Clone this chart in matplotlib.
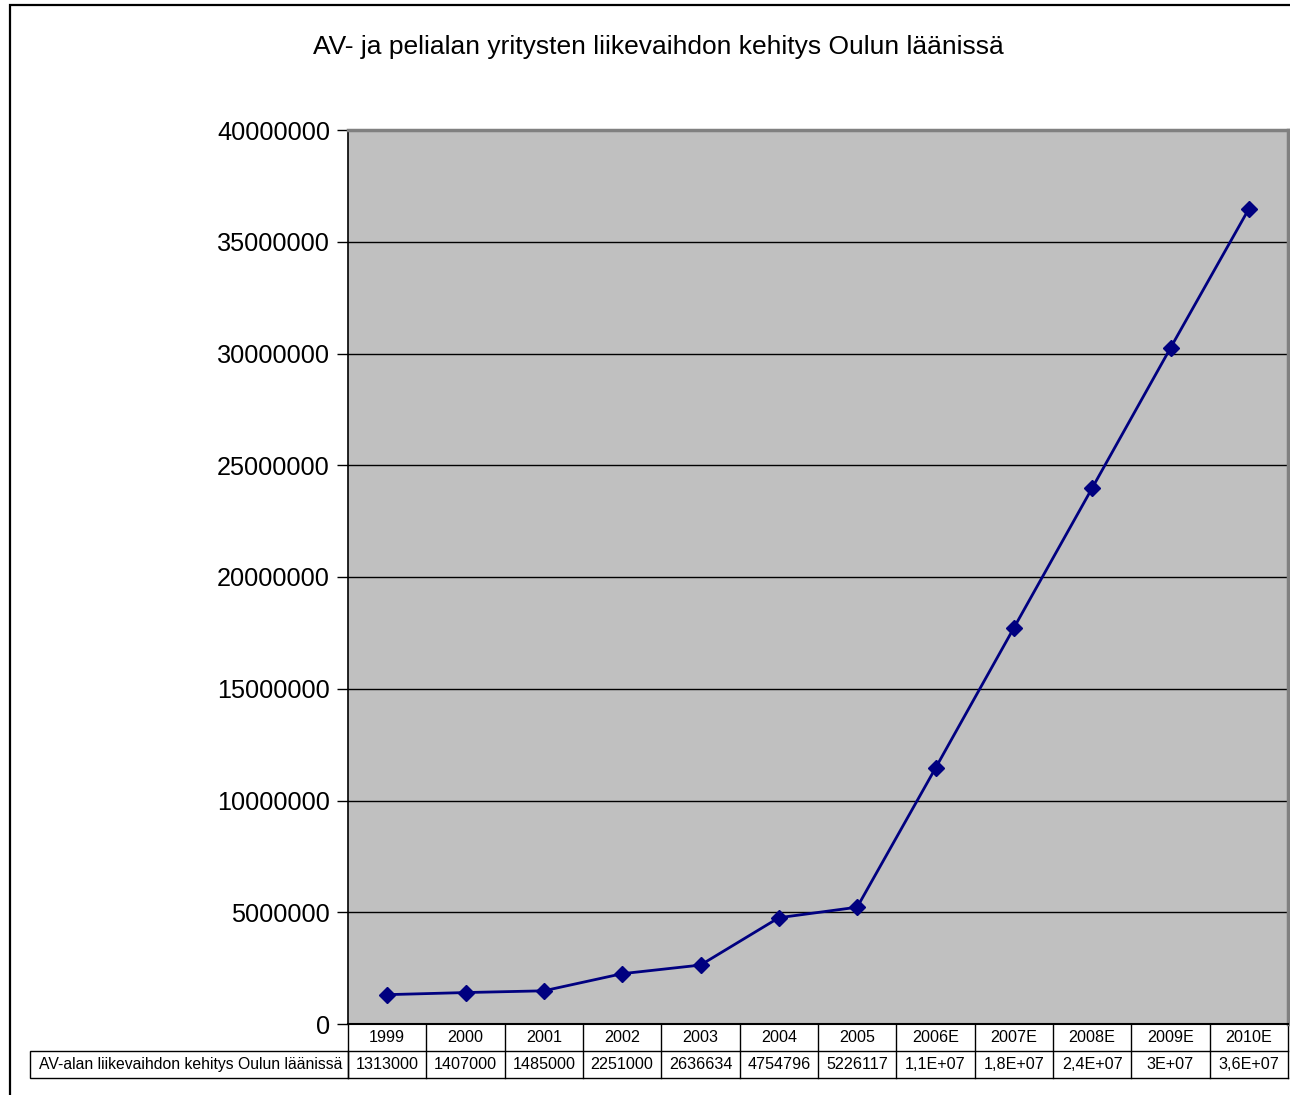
import matplotlib
matplotlib.use('Agg')
import matplotlib.pyplot as plt
from matplotlib.patches import Rectangle
from matplotlib.lines import Line2D
from matplotlib.ticker import FixedLocator

plt.rcParams['font.family'] = ['Liberation Sans', 'DejaVu Sans']

# === Data ===
years = ['1999', '2000', '2001', '2002', '2003', '2004', '2005',
         '2006E', '2007E', '2008E', '2009E', '2010E']
revenue = [1313000, 1407000, 1485000, 2251000, 2636634, 4754796, 5226117,
           11450000, 17720000, 23980000, 30250000, 36470000]
table_text = ['1313000', '1407000', '1485000', '2251000', '2636634', '4754796',
              '5226117', '1,1E+07', '1,8E+07', '2,4E+07', '3E+07', '3,6E+07']
series_name = 'AV-alan liikevaihdon kehitys Oulun läänissä'
title = 'AV- ja pelialan yritysten liikevaihdon kehitys Oulun läänissä'
yticks = [0, 5000000, 10000000, 15000000, 20000000, 25000000,
          30000000, 35000000, 40000000]

W, H = 1290, 1095
fig = plt.figure(figsize=(W / 100, H / 100), dpi=100)

# outer chart border (right/bottom edges run off the canvas)
fig.add_artist(Rectangle((10 / W, -0.05), 1.2, 1 - 5 / H + 0.05,
                         transform=fig.transFigure, fill=False,
                         edgecolor='black', linewidth=1.6))

left, right, top, bottom = 348, 1288, 130, 1024
ax = fig.add_axes([left / W, 1 - bottom / H, (right - left) / W, (bottom - top) / H])
ax.set_facecolor('#C0C0C0')

x = list(range(len(years)))
ax.plot(x, revenue, color='#000080', linewidth=2, marker='D', markersize=8.5,
        zorder=3)

ax.set_xlim(-0.5, len(years) - 0.5)
ax.set_ylim(0, 40000000)
ax.yaxis.set_major_locator(FixedLocator(yticks))
ax.set_yticklabels([str(v) for v in yticks], fontsize=18.2)
ax.tick_params(axis='y', length=8, width=1, pad=5)
ax.set_xticks([])
ax.grid(axis='y', color='black', linewidth=1)
ax.set_axisbelow(True)

for side in ['top', 'right']:
    ax.spines[side].set_color('#808080')
    ax.spines[side].set_linewidth(2.5)
ax.spines['left'].set_linewidth(1.2)
ax.spines['bottom'].set_linewidth(1.5)

fig.text((314 + 1002) / 2 / W, 1 - 47 / H, title, ha='center', va='center',
         fontsize=19)

# === Data table below the axes ===
row_h = 27 / (bottom - top)
trans = ax.get_xaxis_transform()
lw = 1.0
fs = 11.6
for i, y in enumerate(years):
    ax.add_line(Line2D([i - 0.5, i - 0.5], [0, -2 * row_h], transform=trans,
                       color='black', linewidth=lw, clip_on=False))
    ax.text(i, -0.5 * row_h, y, transform=trans, ha='center', va='center',
            fontsize=fs, clip_on=False)
    ax.text(i, -1.5 * row_h, table_text[i], transform=trans, ha='center',
            va='center', fontsize=fs, clip_on=False)
ax.add_line(Line2D([len(years) - 0.5] * 2, [0, -2 * row_h], transform=trans,
                   color='black', linewidth=lw, clip_on=False))
for yy in [-row_h, -2 * row_h]:
    ax.add_line(Line2D([-0.5, len(years) - 0.5], [yy, yy], transform=trans,
                       color='black', linewidth=lw, clip_on=False))

# series label cell
lab_l, lab_r = 30, left
y1 = 1 - (bottom + 27) / H
y2 = 1 - (bottom + 54) / H
fig.add_artist(Rectangle((lab_l / W, y2), (lab_r - lab_l) / W, y1 - y2,
                         transform=fig.transFigure, fill=False,
                         edgecolor='black', linewidth=lw))
fig.text((38 + 344) / 2 / W, (y1 + y2) / 2, series_name, ha='center',
         va='center', fontsize=11.3)

fig.savefig('out.png', dpi=100)
